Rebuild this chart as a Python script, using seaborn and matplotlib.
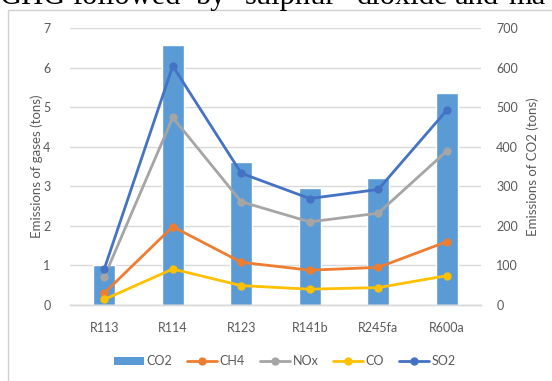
import numpy as np
import pandas as pd
import matplotlib
matplotlib.use("Agg")
import matplotlib.pyplot as plt
import seaborn as sns
from matplotlib.patches import Patch, Rectangle
from matplotlib.lines import Line2D

# data
refrigerants = ["R113", "R114", "R123", "R141b", "R245fa", "R600a"]
co2 = [100, 657, 362, 295, 320, 536]
ch4 = [0.30, 1.98, 1.08, 0.88, 0.95, 1.60]
nox = [0.71, 4.74, 2.61, 2.10, 2.32, 3.89]
co = [0.14, 0.91, 0.49, 0.40, 0.44, 0.74]
so2 = [0.91, 6.04, 3.33, 2.69, 2.92, 4.92]

gas_colors = {"CH4": "#ED7D31", "NOx": "#A5A5A5", "CO": "#FFC000", "SO2": "#4472C4"}
bar_color = "#5B9BD5"
text_gray = "#595959"
grid_gray = "#D9D9D9"

lines_df = pd.DataFrame({
    "refrigerant": refrigerants * 4,
    "gas": ["CH4"] * 6 + ["NOx"] * 6 + ["CO"] * 6 + ["SO2"] * 6,
    "tons": ch4 + nox + co + so2,
})
bars_df = pd.DataFrame({"refrigerant": refrigerants, "co2": co2})

sns.set_theme(style="white")
plt.rcParams["font.family"] = ["Lato", "DejaVu Sans"]

fig = plt.figure(figsize=(5.52, 3.81), dpi=100)
ax1 = fig.add_axes([70 / 552, 1 - 305 / 381, 411 / 552, 277 / 381])

# secondary axis (CO2 bars) sits behind the gas lines
ax2 = ax1.twinx()
sns.barplot(data=bars_df, x="refrigerant", y="co2", order=refrigerants,
            color=bar_color, saturation=1, width=0.32, ax=ax2, zorder=2)
ax2.set_ylim(0, 700)
ax2.set_yticks(np.arange(0, 701, 100))
ax2.grid(axis="y", color=grid_gray, linewidth=1, zorder=0)
ax2.set_axisbelow(True)

sns.lineplot(data=lines_df, x="refrigerant", y="tons", hue="gas",
             hue_order=["CH4", "NOx", "CO", "SO2"], palette=gas_colors,
             marker="o", markersize=6, markeredgewidth=0, linewidth=2,
             sort=False, legend=False, ax=ax1)
ax1.set_zorder(ax2.get_zorder() + 1)
ax1.patch.set_visible(False)
ax1.set_ylim(0, 7)
ax1.set_yticks(range(0, 8))
ax1.set_xlim(-0.5, 5.5)

for ax in (ax1, ax2):
    for side in ("top", "left", "right"):
        ax.spines[side].set_visible(False)
    ax.spines["bottom"].set_color(grid_gray)
    ax.spines["bottom"].set_linewidth(1)
    ax.tick_params(length=0, labelsize=9, colors=text_gray)

ax1.tick_params(axis="y", pad=14)
ax2.tick_params(axis="y", pad=11)
ax1.tick_params(axis="x", pad=12)
ax2.tick_params(axis="x", pad=12)
ax1.set_xlabel("")
ax2.set_xlabel("")
ax1.set_ylabel("Emissions of gases (tons)", fontsize=9.5, color=text_gray)
ax2.set_ylabel("Emissions of CO2 (tons)", fontsize=9.5, color=text_gray)
ax1.yaxis.set_label_coords(-0.066, 0.5)
ax2.yaxis.set_label_coords(1.11, 0.5)

handles = [Patch(facecolor=bar_color, edgecolor="none", label="CO2")]
for g in ["CH4", "NOx", "CO", "SO2"]:
    handles.append(Line2D([], [], color=gas_colors[g], marker="o", markersize=6,
                          markeredgewidth=0, linewidth=2, label=g))
fig.legend(handles=handles, loc="center", bbox_to_anchor=(285 / 552, 1 - 361 / 381),
           ncol=5, frameon=False, fontsize=9, labelcolor=text_gray,
           handlelength=2.4, handletextpad=0.2, columnspacing=1.2, handleheight=0.6)

# chart frame and the clipped line of document text above it
fig.patches.append(Rectangle((8 / 552, -0.1), 1.2, 1.1 - 10 / 381,
                             transform=fig.transFigure, fill=False,
                             edgecolor="#D0D0D0", linewidth=1, zorder=0))
words = [("GHG", 0), ("followed", 72), ("by", 195), ("sulphur", 245),
         ("dioxide", 357), ("and", 455), ("ma", 508)]
for w, px in words:
    fig.text(px / 552, 1 - 4 / 381, w, fontsize=22, family="Liberation Serif",
             va="baseline", ha="left", color="black")

fig.savefig("out.png", dpi=100)
